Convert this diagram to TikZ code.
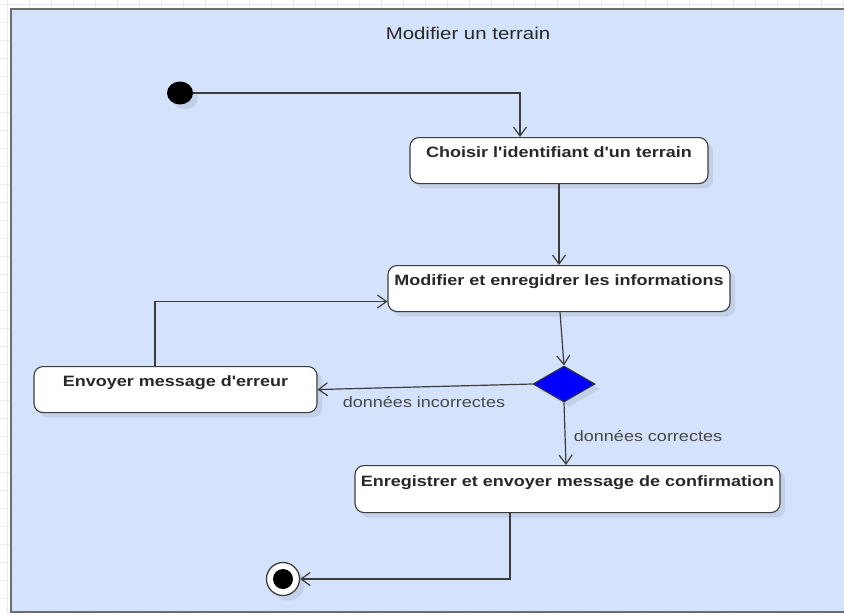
\documentclass[tikz,border=0pt]{standalone}
\usepackage{fontspec}
\setmainfont{Liberation Sans}[FakeStretch=1.2,Ligatures=TeXOff]
\usetikzlibrary{arrows.meta,shapes.geometric,shadows,calc}
\definecolor{bgblue}{RGB}{213,226,252}
\definecolor{framec}{RGB}{110,110,110}
\definecolor{linec}{RGB}{60,60,60}
\definecolor{textc}{RGB}{40,40,40}
\definecolor{gridc}{RGB}{234,234,234}
\definecolor{decblue}{RGB}{0,0,255}
\tikzset{
  shade box/.style={drop shadow={shadow xshift=5pt,shadow yshift=-5pt,fill=black,opacity=0.08}},
  act/.style={draw=linec,line width=1.1pt,fill=white,rounded corners=9pt,
    font=\bfseries\fontsize{15}{18}\selectfont,text=textc,
    inner xsep=3pt,inner ysep=0pt,text height=20pt,text depth=26pt,anchor=north,shade box},
  flow/.style={draw=linec,line width=1.2pt,-{Straight Barb[length=9pt,width=13pt,line width=1.2pt]}},
  guard/.style={font=\fontsize{15}{18}\selectfont,text=textc!85,inner sep=0pt},
  title/.style={font=\fontsize{17}{20}\selectfont,text=textc,inner sep=0pt}
}
\begin{document}
\begin{tikzpicture}[x=1pt,y=-1pt]
\useasboundingbox (0,0) rectangle (844,614);
% grid in margin
\fill[white] (0,0) rectangle (844,614);
\foreach \gx in {7,29,...,843} \draw[gridc,line width=0.6pt] (\gx,0) -- (\gx,614);
\foreach \gy in {4,22,...,614} \draw[gridc,line width=0.6pt] (0,\gy) -- (844,\gy);
% frame
\begin{scope}
\clip (0,0) rectangle (844,614);
\draw[framec,line width=2.2pt,fill=bgblue] (11,9) rectangle (860,612);
\end{scope}
\node[title] (ttl) at (468,33) {Modifier un terrain};
% initial node
\node[ellipse,fill=black,minimum width=26pt,minimum height=23pt,inner sep=0pt,shade box] (start) at (180,93) {};
% activities
\node[act,minimum width=298pt,minimum height=46pt] (b1) at (559,137) {Choisir l'identifiant d'un terrain};
\node[act,minimum width=342pt,minimum height=46pt] (b2) at (559,265) {Modifier et enregidrer les informations};
\node[act,minimum width=283pt,minimum height=45pt] (b3) at (175.5,366) {Envoyer message d'erreur};
\node[act,minimum width=425pt,minimum height=47pt] (b4) at (567.5,465) {Enregistrer et envoyer message de confirmation};
% decision
\node[diamond,draw=black!80,line width=1pt,fill=decblue,minimum width=62pt,minimum height=36pt,aspect=1.72,inner sep=0pt,shade box] (dec) at (564,384) {};
% final node
\node[circle,draw=linec,line width=1.3pt,fill=white,minimum size=33pt,inner sep=0pt,shade box] (end) at (283,579) {};
\node[circle,fill=black,minimum size=20pt,inner sep=0pt] (endin) at (end.center) {};
% connectors
\draw[flow] (start.east) -| ([xshift=-39pt]b1.north);
\draw[flow] (b1.south) -- (b2.north);
\draw[flow] ([xshift=1pt]b2.south) -- (dec.north);
\draw[flow] (dec.west) -- (b3.east);
\draw[flow] ([xshift=-20.5pt]b3.north) |- ([yshift=-13pt]b2.west);
\draw[flow] (dec.south) -- ([xshift=-1.5pt]b4.north);
\draw[flow] ([xshift=-57.5pt]b4.south) |- (end.east);
% guards
\node[guard] (g1) at (424,402) {données incorrectes};
\node[guard] (g2) at (648,436) {données correctes};
\end{tikzpicture}
\end{document}
